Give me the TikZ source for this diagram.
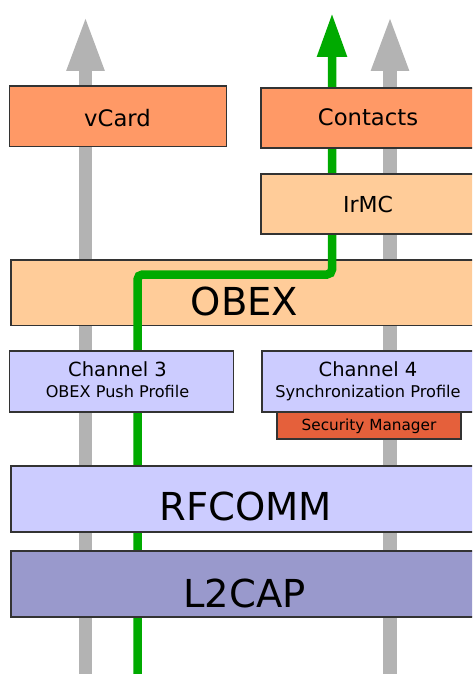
\documentclass[tikz,border=0pt]{standalone}
\usepackage{fontspec}
\setmainfont{DejaVu Sans}
\usetikzlibrary{arrows.meta}
\definecolor{appfill}{HTML}{FF9966}
\definecolor{obexfill}{HTML}{FFCC99}
\definecolor{chanfill}{HTML}{CCCCFF}
\definecolor{lcapfill}{HTML}{9999CC}
\definecolor{secfill}{HTML}{E5603B}
\definecolor{flowgray}{HTML}{B3B3B3}
\definecolor{flowgreen}{HTML}{00AA00}
\definecolor{edge}{HTML}{333333}
\tikzset{
  layerbox/.style={draw=edge, line width=1.2pt, inner sep=0pt, outer sep=0pt},
  lbl/.style={anchor=base, inner sep=0pt, text=black},
  grayflow/.style={draw=flowgray, line width=13.5pt, -{Triangle[width=34pt,length=56pt]}},
  greenflow/.style={draw=flowgreen, line width=8.5pt, rounded corners=5pt, -{Triangle[width=28pt,length=44pt]}},
}
\newcommand{\fs}[1]{\fontsize{#1}{#1}\selectfont}
% a filled layer box spanning two corners (x1,y1) to (x2,y2)
\newcommand{\layer}[6]{\node[layerbox, fill=#2, minimum width=#5pt-#3pt, minimum height=#6pt-#4pt] (#1) at ({(#3+#5)/2},{(#4+#6)/2}) {};}
\begin{document}
\begin{tikzpicture}[x=1pt,y=-1pt]
\useasboundingbox (0,0) rectangle (472,674);
\clip (0,0) rectangle (472,674);

% gray data paths behind every layer
\coordinate (lbot) at (85.5,680);
\coordinate (ltop) at (85.5,15);
\coordinate (rbot) at (390,680);
\coordinate (rtop) at (390,15);
\draw[grayflow] (lbot) -- (ltop);
\draw[grayflow] (rbot) -- (rtop);

% OBEX layer sits below the green path
\layer{obex}{obexfill}{11}{260}{491}{325.5}

% active path: push profile up through OBEX to the contacts store
\coordinate (gbot) at (137.5,680);
\coordinate (gturnA) at (137.5,274.5);
\coordinate (gturnB) at (332,274.5);
\coordinate (gtop) at (332,13);
\draw[greenflow] (gbot) -- (gturnA) -- (gturnB) -- (gtop);

% remaining layers
\layer{vcard}{appfill}{9.3}{86}{226.8}{146.5}
\layer{contacts}{appfill}{261}{88}{491}{148}
\layer{irmc}{obexfill}{261}{174}{491}{234}
\layer{chan3}{chanfill}{9.3}{351}{233.3}{412}
\layer{chan4}{chanfill}{262}{351}{491}{412}
\layer{secmgr}{secfill}{277}{412}{461}{439}
\layer{rfcomm}{chanfill}{11}{466}{491}{532}
\layer{l2cap}{lcapfill}{11}{551}{491}{617}

% labels
\node[lbl, font=\fs{22.7}] (vcardlbl) at (117.5,126) {vCard};
\node[lbl, font=\fs{22.7}] (contactslbl) at (368,125.5) {Contacts};
\node[lbl, font=\fs{22}] (irmclbl) at (368,212) {IrMC};
\node[lbl, font=\fs{38.5}] (obexlbl) at (244.5,315) {OBEX};
\node[lbl, font=\fs{19.5}] (chan3lbl) at (117.5,376) {Channel 3};
\node[lbl, font=\fs{16.1}] (chan3sub) at (117.5,397) {OBEX Push Profile};
\node[lbl, font=\fs{19.5}] (chan4lbl) at (368,376.5) {Channel 4};
\node[lbl, font=\fs{16.2}] (chan4sub) at (368,397) {Synchronization Profile};
\node[lbl, font=\fs{15.3}] (seclbl) at (369,430) {Security Manager};
\node[lbl, font=\fs{38.5}] (rfcommlbl) at (245.5,520) {RFCOMM};
\node[lbl, font=\fs{38.5}] (l2caplbl) at (244.5,607) {L2CAP};
\end{tikzpicture}
\end{document}
